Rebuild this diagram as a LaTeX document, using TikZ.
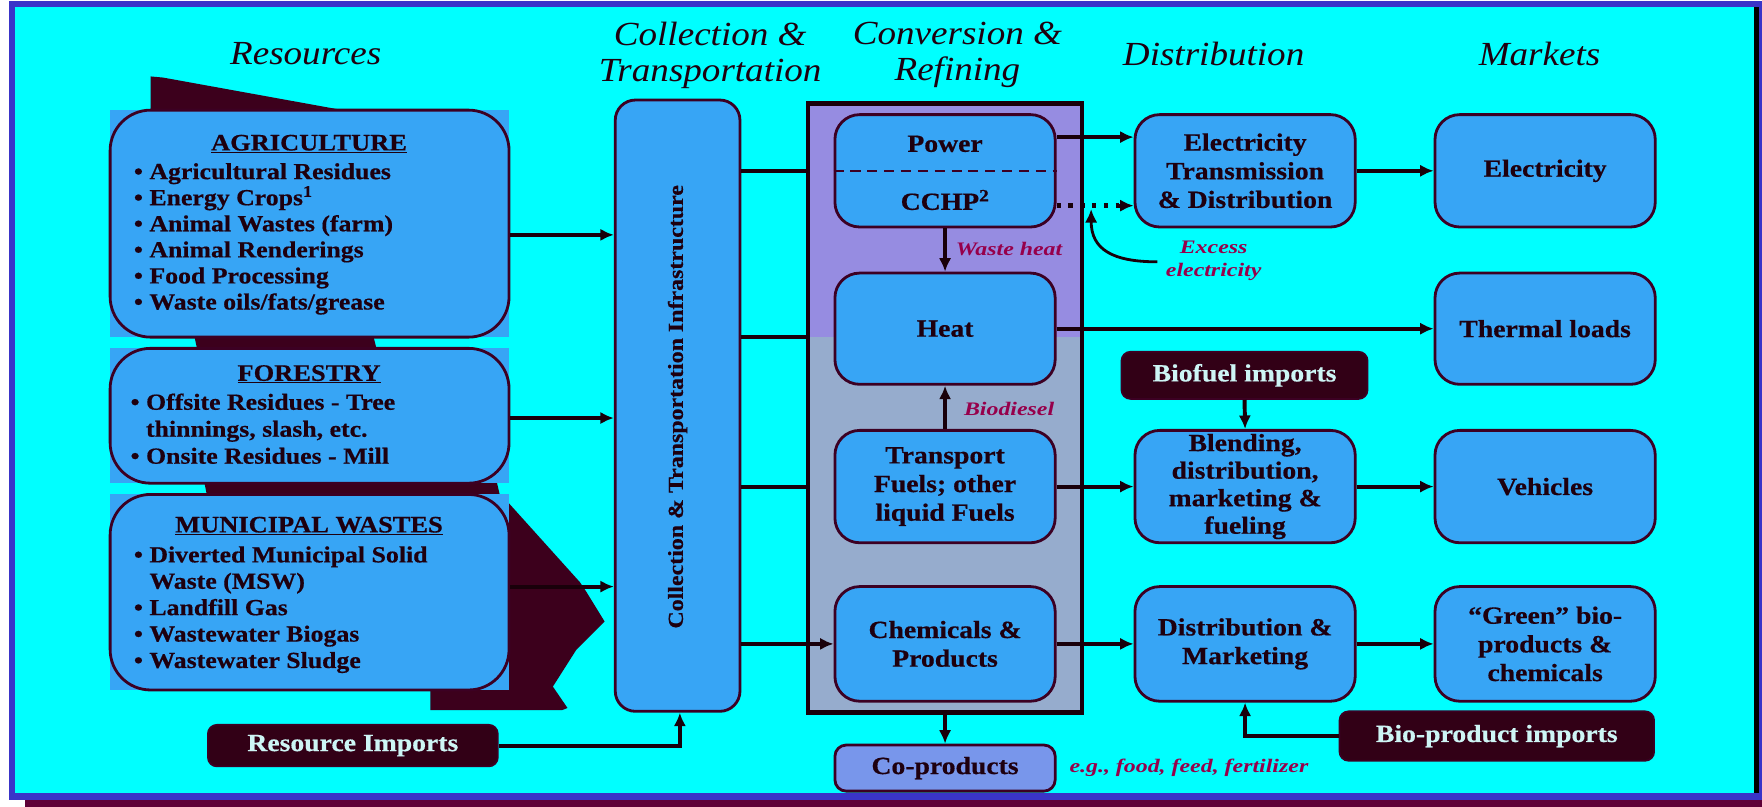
\documentclass[tikz,border=0pt]{standalone}
\usepackage{fontspec}
\setmainfont{Liberation Serif}
\newfontfamily\bxfont[FakeStretch=1.12,BoldFeatures={FakeBold=0.5}]{Liberation Serif}
\newfontfamily\hdfont[FakeStretch=1.1]{Liberation Serif}
\newfontfamily\lbfont[FakeStretch=1.25]{Liberation Serif}
\usetikzlibrary{arrows.meta,calc}
\definecolor{cyanbg}{RGB}{0,255,255}
\definecolor{frameblue}{RGB}{58,52,200}
\definecolor{shadowc}{RGB}{95,0,55}
\definecolor{dkshape}{RGB}{60,0,28}
\definecolor{boxfill}{RGB}{55,165,245}
\definecolor{boxline}{RGB}{60,0,35}
\definecolor{txt}{RGB}{30,0,15}
\definecolor{convtop}{RGB}{150,140,225}
\definecolor{convbot}{RGB}{150,172,205}
\definecolor{coprodfill}{RGB}{120,150,235}
\definecolor{dkfill}{RGB}{50,0,22}
\definecolor{dktxt}{RGB}{205,245,245}
\definecolor{lblc}{RGB}{150,0,75}
\definecolor{linec}{RGB}{25,0,10}
\begin{document}
\begin{tikzpicture}[x=1pt,y=-1pt,
  hdr/.style={font=\hdfont\itshape\fontsize{30}{32}\selectfont, text=txt, align=center, inner sep=0pt},
  box/.style={draw=boxline, line width=2.5pt, fill=boxfill, rounded corners=22pt, minimum width=196pt, minimum height=100pt, inner sep=0pt, align=center, text=txt, font=\bxfont\bfseries\fontsize{22}{25.5}\selectfont},
  resbox/.style={draw=boxline, line width=2.5pt, rounded corners=36pt, minimum width=355pt, inner sep=0pt},
  restxt/.style={font=\bxfont\bfseries\fontsize{20.5}{23.2}\selectfont, text=txt, inner sep=0pt, align=left, anchor=north west},
  reshd/.style={font=\bxfont\bfseries\fontsize{21}{24}\selectfont, text=txt, inner sep=0pt},
  dkbox/.style={fill=dkfill, draw=boxline, line width=1.5pt, rounded corners=8pt, inner sep=0pt, text=dktxt, font=\bxfont\bfseries\fontsize{22}{24}\selectfont},
  lbl/.style={font=\lbfont\bfseries\itshape\fontsize{17}{20}\selectfont, text=lblc, inner sep=0pt, align=center},
  arr/.style={draw=linec, line width=3.5pt, -{Latex[length=12pt,width=11pt]}},
  ln/.style={draw=linec, line width=3.5pt}
]
\useasboundingbox (0,0) rectangle (1568,718);
% frame
\fill[white] (0,0) rectangle (1568,718);
\fill[shadowc] (22,712) rectangle (1568,718);
\fill[frameblue] (8,1) rectangle (1568,712);
\fill[cyanbg] (13,6) rectangle (1565,706);
\fill[black] (1561,6) rectangle (1565,706);

% headers
\node[hdr] (h1) at (272,48) {Resources};
\node[hdr] (h2) at (632,49) {Collection \&\\Transportation};
\node[hdr] (h3) at (852,49) {Conversion \&\\Refining};
\node[hdr] (h4) at (1080,48) {Distribution};
\node[hdr] (h5) at (1370,48) {Markets};

% dark shapes behind resources
\fill[dkshape] (134,68) -- (145,69) -- (305,98) -- (305,112) -- (134,112) -- cycle;
\fill[dkshape] (171,290) -- (330,290) -- (337,318) -- (177,318) -- cycle;
\fill[dkshape] (180,420) -- (440,420) -- (447,450) -- (186,450) -- cycle;
\fill[dkshape] (440,448) -- (453,448) -- (516,518) -- (522,527) -- (538,553) -- (513,578) -- (492,611) -- (505,630) -- (500,632) -- (383,632) -- (383,600) -- (440,600) -- cycle;

% resource boxes
\fill[boxfill] (98,98) rectangle (453,300);
\node[resbox, minimum height=202pt] (agri) at (275.5,199) {};
\fill[boxfill] (98,310) rectangle (453,430);
\node[resbox, minimum height=120pt] (forest) at (275.5,370) {};
\fill[boxfill] (98,440) rectangle (453,614);
\node[resbox, minimum height=174pt] (muni) at (275.5,527) {};

\node[reshd] (agrih) at (275,128) {\underline{AGRICULTURE}};
\node[restxt] (agril) at (119,145) {• Agricultural Residues\\• Energy Crops\textsuperscript{1}\\• Animal Wastes (farm)\\• Animal Renderings\\• Food Processing\\• Waste oils/fats/grease};
\node[reshd] (foresth) at (275,333) {\underline{FORESTRY}};
\node[restxt, font=\bxfont\bfseries\fontsize{20.5}{24}\selectfont] (forestl) at (116,350) {• Offsite Residues - Tree\\\phantom{• }thinnings, slash, etc.\\• Onsite Residues - Mill};
\node[reshd] (munih) at (275,468) {\underline{MUNICIPAL WASTES}};
\node[restxt, font=\bxfont\bfseries\fontsize{20.5}{23.5}\selectfont] (munil) at (119,486) {• Diverted Municipal Solid\\\phantom{• }Waste (MSW)\\• Landfill Gas\\• Wastewater Biogas\\• Wastewater Sludge};

\node[dkbox, minimum width=258pt, minimum height=37pt] (resimp) at (314,663.5) {Resource Imports};

% collection
\node[box, minimum width=111pt, minimum height=544pt, rounded corners=18pt] (coll) at (603,361) {};
\node[rotate=90, font=\bxfont\bfseries\fontsize{19}{22}\selectfont, text=txt, inner sep=0pt] (colltxt) at (603,362) {Collection \& Transportation Infrastructure};

% conversion
\fill[convtop] (719,92) rectangle (963,300);
\fill[convbot] (719,300) rectangle (963,634);
\node[draw=linec, line width=4pt, minimum width=244pt, minimum height=542pt, inner sep=0pt] (conv) at (841,363) {};

\node[box] (power) at (841,152) {};
\draw[boxline, line width=2pt, dash pattern=on 9pt off 6pt] (power.west) -- (power.east);
\node[font=\bxfont\bfseries\fontsize{22}{25}\selectfont, text=txt, inner sep=0pt] (powt) at (841,128) {Power};
\node[font=\bxfont\bfseries\fontsize{22}{25}\selectfont, text=txt, inner sep=0pt] (ccht) at (841,178) {CCHP\textsuperscript{2}};
\node[box, minimum height=99pt] (heat) at (841,292.5) {Heat};
\node[box] (transport) at (841,433) {Transport\\Fuels; other\\liquid Fuels};
\node[box, minimum height=102pt] (chem) at (841,573) {Chemicals \&\\Products};
\node[box, minimum height=41pt, rounded corners=10pt, fill=coprodfill] (coprod) at (841,683.5) {Co-products};

% distribution
\node[box] (elec) at (1108,152) {Electricity\\Transmission\\\& Distribution};
\node[dkbox, minimum width=219pt, minimum height=42pt] (biofuel) at (1107.5,334) {Biofuel imports};
\node[box, font=\bxfont\bfseries\fontsize{22}{24.5}\selectfont] (blend) at (1108,433) {Blending,\\distribution,\\marketing \&\\fueling};
\node[box, minimum height=102pt] (distm) at (1108,573) {Distribution \&\\Marketing};

% markets
\node[box] (electricity) at (1375,152) {Electricity};
\node[box, minimum height=99pt] (thermal) at (1375,292.5) {Thermal loads};
\node[box] (vehicles) at (1375,433) {Vehicles};
\node[box, minimum height=102pt] (green) at (1375,573) {“Green” bio-\\products \&\\chemicals};
\node[dkbox, minimum width=280pt, minimum height=44pt] (bioimp) at (1332,655) {Bio-product imports};

% connectors: resources to collection
\draw[arr] ([yshift=-10pt]agri.east) -- ([yshift=-10pt]agri.east -| coll.west);
\draw[arr] ([yshift=-2pt]forest.east) -- ([yshift=-2pt]forest.east -| coll.west);
\draw[arr] ([yshift=5pt]muni.east) -- ([yshift=5pt]muni.east -| coll.west);
\coordinate (cb) at ([xshift=2pt]coll.south);
\draw[arr] (resimp.east) -| (cb);

% collection to conversion
\draw[ln] (power.west -| coll.east) -- (power.west -| conv.west);
\coordinate (hl) at ([yshift=-7pt]heat.west);
\draw[ln] (hl -| coll.east) -- (hl -| conv.west);
\draw[ln] (transport.west -| coll.east) -- (transport.west -| conv.west);
\draw[arr] (chem.west -| coll.east) -- (chem.west);

% inside conversion
\draw[arr] (power.south) -- (heat.north);
\draw[arr] (transport.north) -- (heat.south);
\draw[arr] (conv.south) -- (coprod.north);

% to distribution
\coordinate (pe1) at ([yshift=30pt]power.east);
\draw[arr] (pe1) -- (pe1 -| elec.west);
\coordinate (pe2) at ([yshift=-31pt]power.east);
\coordinate (pe3) at ([xshift=-13pt]pe2 -| elec.west);
\draw[linec, line width=4pt, dash pattern=on 4pt off 6.5pt] (pe2) -- (pe3);
\draw[arr] (pe3) -- (pe2 -| elec.west);
\coordinate (exs) at (1030,233);
\coordinate (exe) at (971,186);
\draw[arr, line width=2.5pt] (exs) .. controls (990,233) and (971,222) .. (exe);

\draw[arr] (heat.east) -- (heat.east -| thermal.west);
\draw[arr] (transport.east) -- (transport.east -| blend.west);
\draw[arr] (chem.east) -- (chem.east -| distm.west);

% to markets
\draw[arr] (elec.east) -- (elec.east -| electricity.west);
\draw[arr] (blend.east) -- (vehicles.west);
\draw[arr] (distm.east) -- (green.west);
\draw[arr] (biofuel.south) -- (blend.north);
\draw[arr] (bioimp.west) -| (distm.south);

% labels
\node[lbl] (wh) at (898,222) {Waste heat};
\node[lbl] (bd) at (898,364) {Biodiesel};
\node[lbl] (exc) at (1080,232) {Excess\\electricity};
\node[lbl] (eg) at (1058,683) {e.g., food, feed, fertilizer};
\end{tikzpicture}
\end{document}
